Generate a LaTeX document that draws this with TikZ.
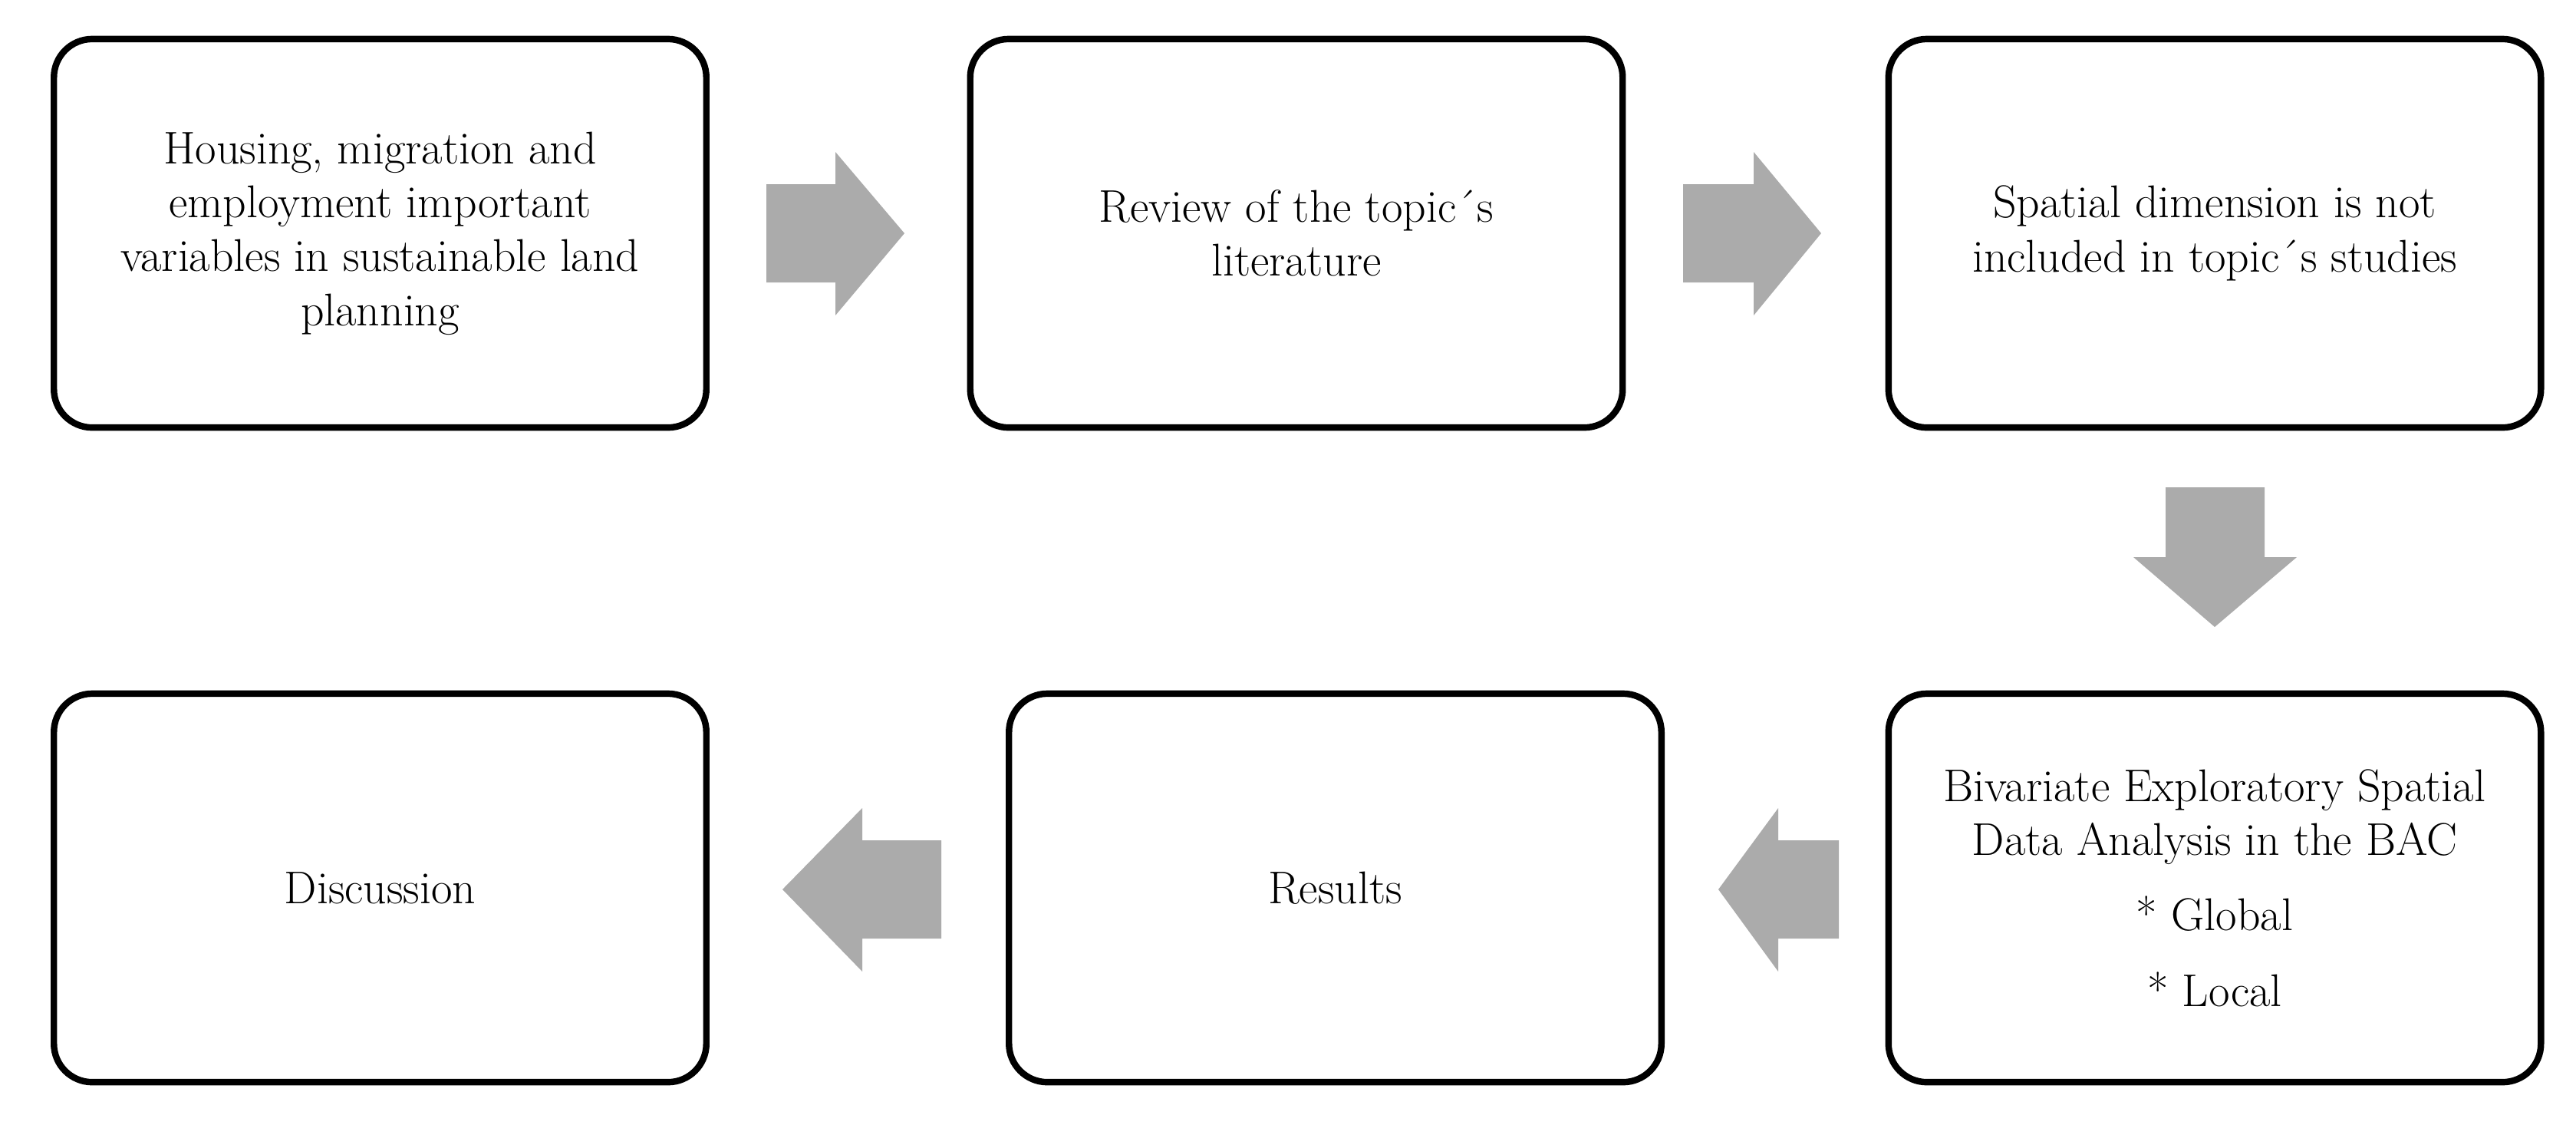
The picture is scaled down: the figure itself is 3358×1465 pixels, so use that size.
\documentclass[tikz,border=0pt]{standalone}
\usepackage{tikz}

\definecolor{arrowgray}{RGB}{171,171,171}
\tikzset{
  stepbox/.style={draw, line width=2.4pt, rounded corners=0.5cm,
    minimum width=8.5cm, minimum height=5.06cm, align=center,
    font=\fontsize{17}{20}\selectfont},
  blockarrow/.style={fill=arrowgray}
}

\begin{document}
\begin{tikzpicture}[x=0.01cm, y=-0.01cm]
\useasboundingbox (0,0) rectangle (3358,1465);

% top row
\node[stepbox] (housing) at (495.5,304) {Housing, migration and\\ employment important\\ variables in sustainable land\\ planning};
\node[stepbox] (review) at (1690,304) {Review of the topic´s\\ literature};
\node[stepbox] (spatial) at (2887,304) {Spatial dimension is not\\ included in topic´s studies};

% bottom row
\node[stepbox] (discussion) at (495.5,1157) {Discussion};
\node[stepbox] (results) at (1740.5,1157) {Results};
\node[stepbox] (bivariate) at (2887,1157) {Bivariate Exploratory Spatial\\ Data Analysis in the BAC\\[8pt] * Global\\[8pt] * Local};

% arrows
\fill[blockarrow] (999,240) -- (1089,240) -- (1089,198) -- (1179,304) -- (1089,411) -- (1089,368) -- (999,368) -- cycle;
\fill[blockarrow] (2194,240) -- (2286,240) -- (2286,198) -- (2374,304) -- (2286,411) -- (2286,368) -- (2194,368) -- cycle;
\fill[blockarrow] (2823,635) -- (2952,635) -- (2952,726) -- (2994,726) -- (2887,817) -- (2781,726) -- (2823,726) -- cycle;
\fill[blockarrow] (2397,1095) -- (2318,1095) -- (2318,1053) -- (2240,1159) -- (2318,1266) -- (2318,1223) -- (2397,1223) -- cycle;
\fill[blockarrow] (1227,1095) -- (1124,1095) -- (1124,1053) -- (1020,1159) -- (1124,1266) -- (1124,1223) -- (1227,1223) -- cycle;
\end{tikzpicture}
\end{document}
